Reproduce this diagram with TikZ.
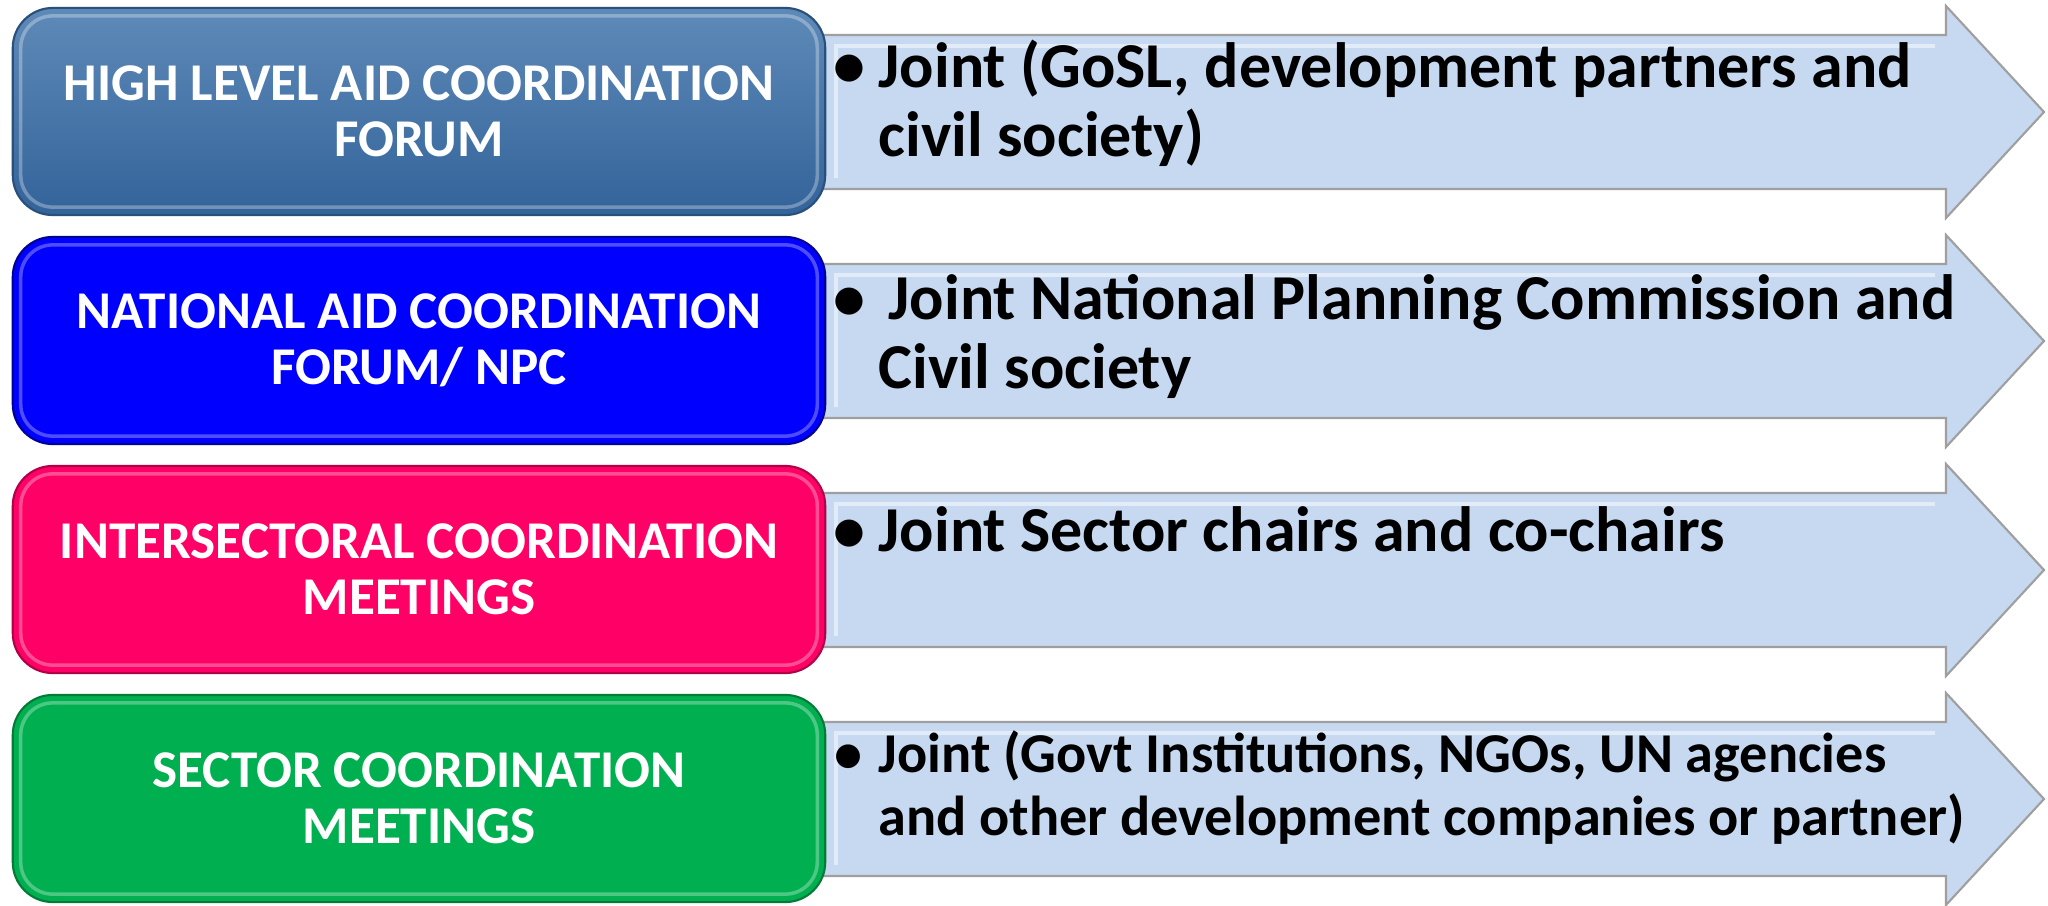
\documentclass[tikz,border=0pt]{standalone}
\usepackage{fontspec}
\setmainfont{Carlito}
\definecolor{hltop}{HTML}{5E8AB8}
\definecolor{hlbot}{HTML}{33639A}
\definecolor{natblue}{HTML}{0000FF}
\definecolor{interpink}{HTML}{FF0066}
\definecolor{secgreen}{HTML}{00B050}
\definecolor{shaftfill}{HTML}{C6D9F1}
\begin{document}
\begin{tikzpicture}[x=0.01cm,y=-0.01cm,
    level/.style={rounded corners=0.4cm,minimum width=8.12cm,minimum height=2.07cm,
      text=white,align=center,line width=0.6pt,
      font=\fontsize{15.1}{15.9}\selectfont\bfseries},
    shaft/.style={fill=shaftfill,draw=gray!75,line width=0.6pt,line join=miter},
    item/.style={anchor=base west,align=left,inner sep=0pt,
      font=\fontsize{18.2}{19.6}\selectfont\bfseries},
    dot/.style={anchor=base,inner sep=0pt,font=\fontsize{18.2}{19.6}\selectfont\bfseries}]
    \useasboundingbox (0,0) rectangle (2048,906);
    \fill[white] (0,0) rectangle (2048,906);
    \foreach \t in {8,237,466,695} {
        \draw[shaft] (800,\t+27) -- (1946,\t+27) -- (1946,\t-2) -- (2044,\t+104)
            -- (1946,\t+210) -- (1946,\t+181) -- (800,\t+181) -- cycle;
        \draw[white,opacity=0.5,line width=1pt] (836,\t+170) -- (836,\t+38) -- (1935,\t+38);
    }
    \node[level,top color=hltop,bottom color=hlbot,draw=hlbot!80!black] (hl) at (419,111.5)
        {HIGH LEVEL AID COORDINATION\\FORUM};
    \node[level,fill=natblue,draw=natblue!60!black] (nat) at (419,340.5)
        {NATIONAL AID COORDINATION\\FORUM/ NPC};
    \node[level,fill=interpink,draw=interpink!70!black] (inter) at (419,569.5)
        {INTERSECTORAL COORDINATION\\MEETINGS};
    \node[level,fill=secgreen,draw=secgreen!70!black] (sec) at (419,798.5)
        {SECTOR COORDINATION\\MEETINGS};
    \foreach \n in {hl,nat,inter,sec}
        \draw[white,opacity=0.3,line width=1pt,rounded corners=0.32cm]
            ([shift={(9,9)}]\n.north west) rectangle ([shift={(-9,-9)}]\n.south east);
    % last baseline of each text = first baseline + line skip
    \node[item] (hltxt) at (878,156) {Joint (GoSL, development partners and\\civil society)};
    \node[dot] (hldot) at (849,87) {\textbullet};
    \node[item] (nattxt) at (878,388) {\hspace{0.1cm}Joint National Planning Commission and\\Civil society};
    \node[dot] (natdot) at (849,319) {\textbullet};
    \node[item] (intertxt) at (878,551) {Joint Sector chairs and co-chairs};
    \node[dot] (interdot) at (849,551) {\textbullet};
    \node[item,font=\fontsize{16}{17.9}\selectfont\bfseries] (sectxt) at (878,835)
        {Joint (Govt Institutions, NGOs, UN agencies\\and other development companies or partner)};
    \node[dot,font=\fontsize{16}{17.9}\selectfont\bfseries] (secdot) at (849,772) {\textbullet};
\end{tikzpicture}
\end{document}
